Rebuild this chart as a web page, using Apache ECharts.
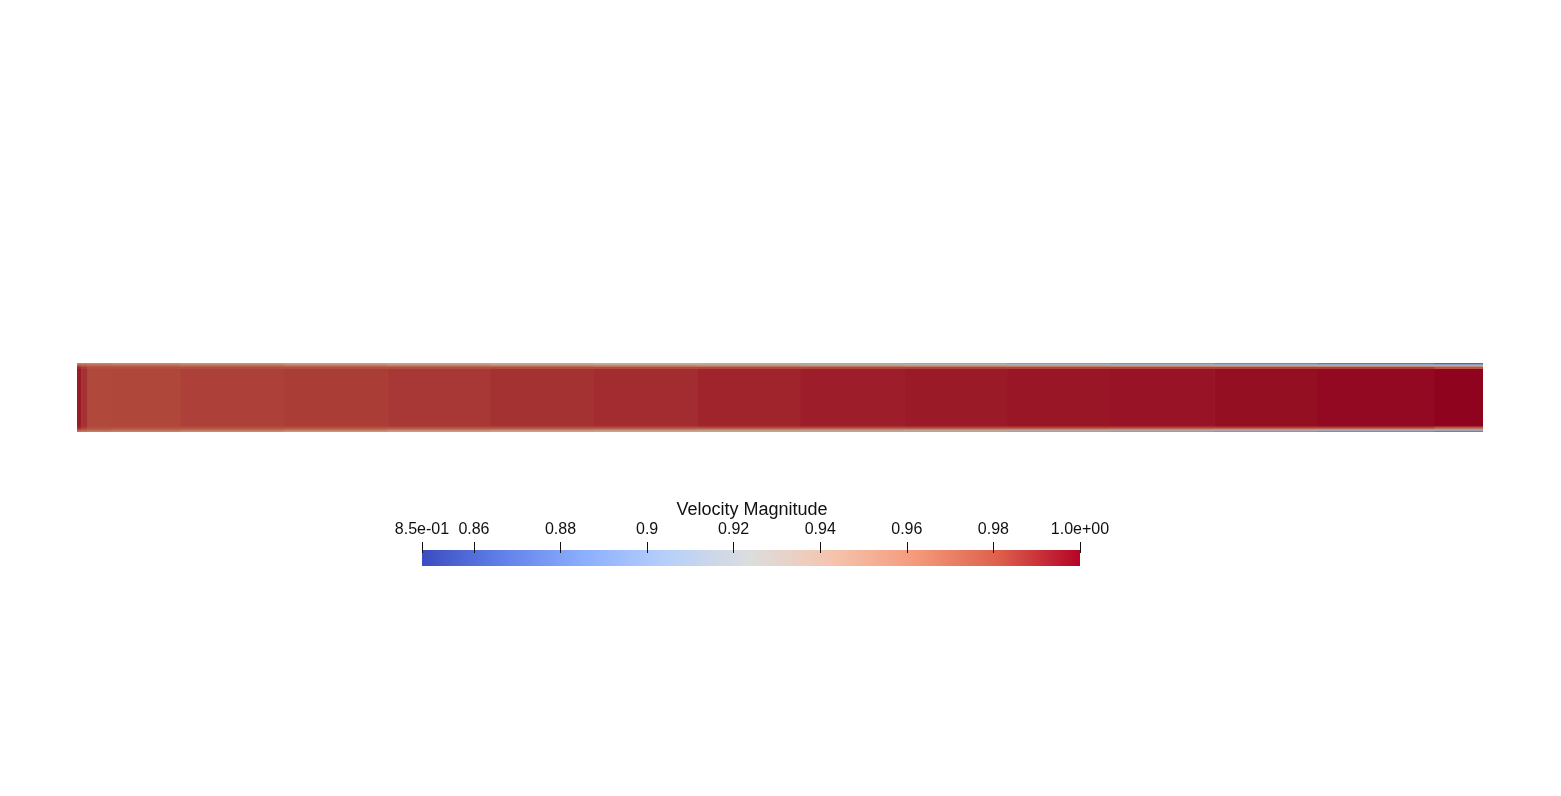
<!DOCTYPE html>
<html>
<head>
<meta charset="utf-8">
<script src="https://cdn.jsdelivr.net/npm/echarts@6/dist/echarts.min.js"></script>
<style>
html,body{margin:0;padding:0;background:#fff;}
#c{width:1561px;height:796px;}
</style>
</head>
<body>
<div id="c"></div>
<script>
// ---- data ----
// column edges along the channel (length units, channel height = 1)
const colEdges = [0, 0.06, 0.15, 0.5, 1.5, 3, 4.5, 6, 7.5, 9, 10.5, 12, 13.5, 15, 16.5, 18, 19.7, 20.4];
// band edges measured from the wall (fraction of height), last band is the core up to mid-height
const bandEdges = [0, 0.0145, 0.029, 0.0435, 0.058, 0.087, 0.5];
// velocity magnitude per column for each band (wall -> core)
const wallV  = [0.958, 0.957, 0.955, 0.953, 0.948, 0.942, 0.936, 0.930, 0.924, 0.918, 0.911, 0.904, 0.897, 0.890, 0.883, 0.875, 0.866];
const band1V = [0.968, 0.966, 0.964, 0.961, 0.957, 0.952, 0.947, 0.942, 0.938, 0.934, 0.929, 0.924, 0.919, 0.914, 0.909, 0.903, 0.897];
const band2V = [0.976, 0.973, 0.970, 0.969, 0.966, 0.963, 0.960, 0.957, 0.954, 0.951, 0.948, 0.945, 0.942, 0.939, 0.936, 0.932, 0.927];
const band3V = [0.984, 0.979, 0.976, 0.975, 0.974, 0.972, 0.970, 0.968, 0.966, 0.965, 0.963, 0.962, 0.960, 0.958, 0.956, 0.954, 0.952];
const band4V = [0.990, 0.985, 0.980, 0.980, 0.980, 0.980, 0.980, 0.981, 0.981, 0.982, 0.982, 0.983, 0.983, 0.983, 0.984, 0.984, 0.977];
const coreV  = [0.994, 0.988, 0.982, 0.9825, 0.984, 0.985, 0.9865, 0.988, 0.9895, 0.9915, 0.993, 0.994, 0.995, 0.996, 0.997, 0.9985, 1.000];
// colour bar
const rangeMin = 0.848, rangeMax = 1.0;
const tickValues = [0.848, 0.86, 0.88, 0.90, 0.92, 0.94, 0.96, 0.98, 1.0];
const tickLabels = ['8.5e-01', '0.86', '0.88', '0.9', '0.92', '0.94', '0.96', '0.98', '1.0e+00'];
const barTitle = 'Velocity Magnitude';
// Cool to Warm colour map
const coolWarm = ['#3b4cc0', '#6282ea', '#8db0fe', '#b8d0f9', '#dddddd', '#f5c4ad', '#f49a7b', '#de604d', '#b40426'];

// ---- build ----
const bands = [wallV, band1V, band2V, band3V, band4V, coreV];
const cells = [];
for (let i = 0; i < colEdges.length - 1; i++) {
  for (let j = 0; j < bands.length; j++) {
    const v = bands[j][i];
    const a = bandEdges[j], b = bandEdges[j + 1];
    if (j < bands.length - 1) {
      cells.push([colEdges[i], colEdges[i + 1], a, b, v]);
      cells.push([colEdges[i], colEdges[i + 1], 1 - b, 1 - a, v]);
    } else {
      cells.push([colEdges[i], colEdges[i + 1], a, 1 - a, v]);
    }
  }
}
// surface shading as rendered (lit surface is darker than the bar)
const shade = 0.8;
function shadeHex(h) {
  const r = parseInt(h.slice(1, 3), 16), g = parseInt(h.slice(3, 5), 16), b = parseInt(h.slice(5, 7), 16);
  return 'rgb(' + Math.round(r * shade) + ',' + Math.round(g * shade) + ',' + Math.round(b * shade) + ')';
}
const shadedMap = coolWarm.map(shadeHex);
const FONT = '"Liberation Sans", Arial, sans-serif';

const chart = echarts.init(document.getElementById('c'), null, {renderer: 'canvas'});
chart.setOption({
  backgroundColor: '#ffffff',
  animation: false,
  title: {
    text: barTitle,
    left: 747, top: 496, textAlign: 'center',
    textStyle: {fontFamily: FONT, fontSize: 18, fontWeight: 'normal', color: '#111'}
  },
  grid: [
    {left: 77, top: 363, width: 1406, height: 69},
    {left: 422, top: 553, width: 658, height: 13}
  ],
  xAxis: [
    {gridIndex: 0, type: 'value', min: 0, max: colEdges[colEdges.length - 1], show: false},
    {gridIndex: 1, type: 'value', min: rangeMin, max: rangeMax, position: 'top', z: 10,
      axisLine: {show: false, onZero: false}, splitLine: {show: false},
      axisTick: {show: true, inside: false, customValues: tickValues, length: 11, lineStyle: {color: '#111', width: 1}},
      axisLabel: {customValues: tickValues, margin: 15, fontFamily: FONT, fontSize: 16, color: '#111',
        formatter: function (v) {
          const k = tickValues.findIndex(t => Math.abs(t - v) < 1e-9);
          return k >= 0 ? tickLabels[k] : '';
        }}
    }
  ],
  yAxis: [
    {gridIndex: 0, type: 'value', min: 0, max: 1, show: false},
    {gridIndex: 1, type: 'value', min: 0, max: 1, show: false}
  ],
  visualMap: {
    show: false, type: 'continuous', seriesIndex: 0, dimension: 4,
    min: rangeMin, max: rangeMax, inRange: {color: shadedMap}
  },
  series: [
    {
      type: 'custom', xAxisIndex: 0, yAxisIndex: 0, clip: true,
      encode: {x: [0, 1], y: [2, 3]},
      data: cells,
      renderItem: function (params, api) {
        const p0 = api.coord([api.value(0), api.value(3)]);
        const p1 = api.coord([api.value(1), api.value(2)]);
        return {
          type: 'rect',
          shape: {x: p0[0], y: p0[1], width: p1[0] - p0[0] + 0.6, height: p1[1] - p0[1] + 0.6},
          style: {fill: api.visual('color')}
        };
      }
    },
    {
      type: 'custom', xAxisIndex: 1, yAxisIndex: 1, z: 1,
      encode: {x: [0, 1]},
      data: [[rangeMin, rangeMax]],
      renderItem: function (params, api) {
        const p0 = api.coord([api.value(0), 1]);
        const p1 = api.coord([api.value(1), 0]);
        const stops = coolWarm.map((c, k) => ({offset: k / (coolWarm.length - 1), color: c}));
        return {
          type: 'rect',
          shape: {x: p0[0], y: p0[1] - 3, width: p1[0] - p0[0], height: p1[1] - p0[1] + 3},
          style: {fill: new echarts.graphic.LinearGradient(0, 0, 1, 0, stops)}
        };
      }
    }
  ]
});
</script>
</body>
</html>
